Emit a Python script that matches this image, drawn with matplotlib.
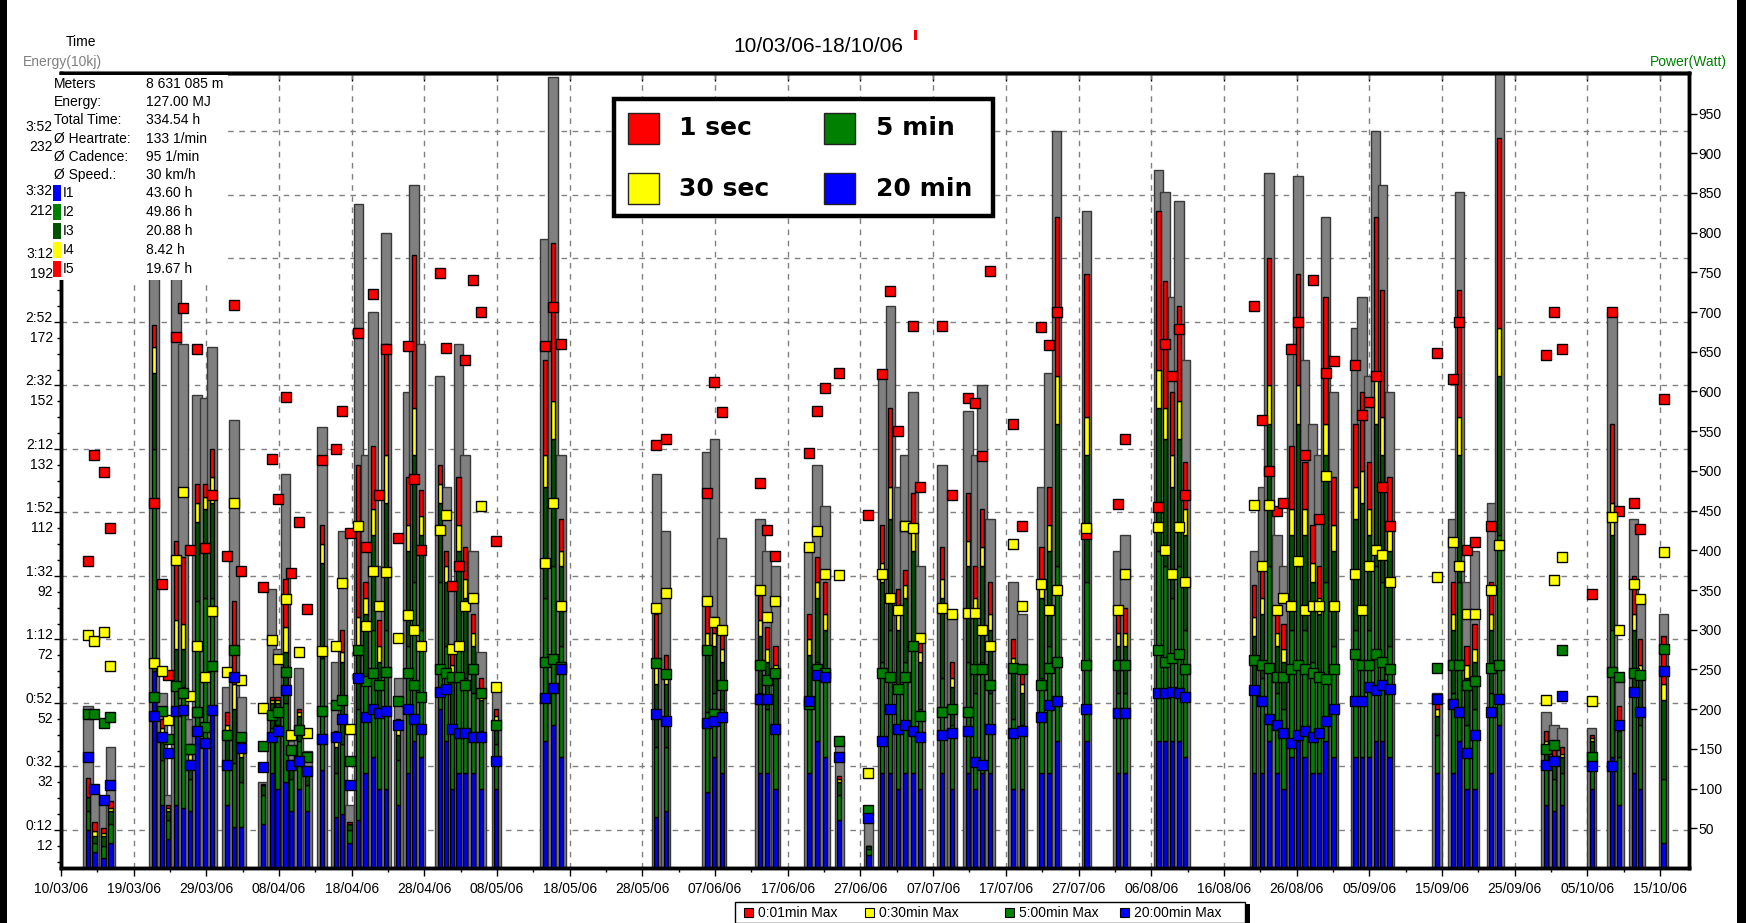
import matplotlib
matplotlib.use("Agg")
import matplotlib.pyplot as plt
from matplotlib.patches import Rectangle
from matplotlib.transforms import blended_transform_factory, offset_copy

plt.rcParams['font.family'] = ['Liberation Sans', 'DejaVu Sans']

# ---------------- data ----------------
date_labels = ["10/03/06", "19/03/06", "29/03/06", "08/04/06", "18/04/06", "28/04/06",
               "08/05/06", "18/05/06", "28/05/06", "07/06/06", "17/06/06", "27/06/06",
               "07/07/06", "17/07/06", "27/07/06", "06/08/06", "16/08/06", "26/08/06",
               "05/09/06", "15/09/06", "25/09/06", "05/10/06", "15/10/06"]

# ride position (days on the axis) and total ride time (min / 10kJ, left axis)
ride_pos = [3.7, 4.6, 5.85, 6.8,
            12.8, 13.9, 14.7, 15.8, 16.8, 17.7, 18.7, 19.8, 20.8, 22.8, 23.8, 24.8,
            27.8, 29.0, 29.8, 30.9, 31.7, 32.7, 33.9, 35.9, 37.8, 38.7, 39.7, 40.9, 41.9,
            42.9, 43.8, 44.7, 46.4, 47.7, 48.6, 49.5, 52.1, 53.0, 53.8, 54.7, 55.6, 56.7, 57.8, 59.9,
            66.6, 67.7, 68.8,
            81.9, 83.2,
            88.9, 89.9, 90.9,
            96.2, 97.1, 98.3,
            102.9, 104.0, 105.1, 107.1, 111.1,
            113.0, 114.1, 115.2, 116.1, 117.2, 118.2,
            121.2, 122.6, 124.8, 125.8, 126.7, 127.8,
            131.0, 132.2, 134.9, 135.9, 137.0, 141.1,
            145.4, 146.4, 151.0, 151.9, 152.9, 153.8, 154.7,
            164.2, 165.3, 166.2, 167.3, 168.2, 169.3, 170.2, 171.1, 172.2, 173.1, 174.0, 175.1,
            178.1, 179.0, 180.0, 180.9, 181.8, 182.8,
            189.3, 191.5, 192.4, 193.4, 194.5, 196.8, 197.9,
            204.3, 205.4, 206.5, 210.6, 213.4, 214.4, 216.4, 217.3, 220.5]

ride_total = [51, 24, 21, 38,
              200, 55, 23, 205, 165, 47, 149, 148, 164, 57, 141, 54,
              27, 88, 69, 124, 40, 63, 37, 139, 65, 106, 20, 209, 130,
              175, 95, 200, 60, 150, 215, 165, 155, 120, 90, 165, 130, 100, 68, 56,
              198, 249, 130,
              124, 106,
              131, 135, 104,
              110, 100, 95,
              102, 127, 114, 40, 15,
              155, 177, 120, 130, 150, 95,
              127, 80, 144, 130, 152, 110,
              90, 80, 120, 156, 232, 207,
              100, 105, 220, 213, 180, 210, 160,
              100, 120, 219, 105, 95, 165, 218, 160, 140, 130, 205, 150,
              170, 180, 155, 232, 215, 150,
              55, 110, 213, 90, 100, 115, 252,
              49, 45, 44, 44, 175, 60, 110, 85, 80]

# time in intensity zones I1..I5 (stacked, left axis units)
zone_i1 = [12, 5, 3, 8,
           62, 20, 9, 20, 19, 18, 44, 40, 50, 20, 13, 13,
           14, 30, 25, 27, 18, 25, 18, 31, 16, 17, 8, 15, 30,
           35, 25, 25, 20, 30, 40, 35, 50, 40, 25, 30, 30, 30, 25, 25,
           40, 45, 35,
           16, 18,
           24, 35, 30,
           30, 30, 25,
           30, 40, 35, 15, 4,
           30, 30, 25, 30, 30, 25,
           30, 25, 30, 25, 30, 30,
           25, 25, 30, 30, 40, 40,
           30, 30, 40, 40, 40, 40, 35,
           30, 30, 40, 30, 25, 35, 40, 35, 30, 30, 40, 35,
           35, 35, 35, 40, 40, 35,
           30, 30, 40, 25, 25, 30, 45,
           20, 18, 20, 25, 35, 20, 30, 25, 8]
zone_i2 = [6, 3, 4, 6,
           70, 14, 6, 38, 38, 10, 40, 45, 35, 14, 20, 14,
           9, 14, 20, 25, 10, 15, 8, 35, 14, 22, 4, 35, 30,
           40, 25, 50, 14, 40, 50, 40, 40, 30, 20, 40, 30, 25, 18, 14,
           45, 50, 35,
           22, 20,
           25, 20, 20,
           25, 20, 20,
           22, 25, 25, 8, 2,
           35, 45, 30, 35, 40, 25,
           30, 20, 35, 30, 35, 25,
           22, 20, 30, 40, 55, 50,
           25, 25, 60, 55, 45, 55, 40,
           25, 30, 55, 25, 25, 40, 55, 40, 35, 30, 50, 35,
           40, 45, 40, 55, 50, 35,
           12, 25, 50, 20, 25, 25, 60,
           12, 10, 10, 10, 40, 15, 25, 20, 20]
zone_i3 = [4.5, 2, 3, 4,
           24, 8, 3, 11, 12, 6, 25, 28, 30, 8, 17, 8,
           3, 8, 7, 16, 5, 8, 4, 30, 8, 26, 2, 19, 20,
           30, 15, 40, 8, 30, 40, 30, 25, 20, 15, 30, 25, 15, 10, 7,
           35, 40, 25,
           20, 20,
           20, 15, 15,
           18, 15, 15,
           15, 20, 15, 4, 1,
           25, 35, 20, 20, 30, 15,
           25, 12, 30, 25, 30, 20,
           15, 10, 25, 30, 45, 40,
           15, 15, 45, 40, 35, 40, 30,
           18, 20, 45, 15, 15, 30, 45, 30, 25, 20, 40, 30,
           35, 35, 30, 45, 40, 30,
           6, 20, 40, 15, 15, 20, 50,
           6, 5, 5, 5, 30, 8, 20, 15, 25]
zone_i4 = [0, 1.5, 1, 1,
           8, 2, 1, 9, 8, 2, 6, 4, 8, 3, 8, 2,
           0, 1, 1, 8, 0.5, 1, 0, 6, 2, 3, 0, 10, 5,
           8, 5, 15, 2, 8, 15, 6, 6, 5, 4, 8, 6, 4, 3, 2,
           10, 12, 5,
           8, 3,
           5, 4, 4,
           5, 4, 4,
           5, 5, 5, 1, 0,
           6, 10, 5, 4, 8, 3,
           6, 3, 8, 5, 6, 5,
           4, 3, 6, 8, 15, 12,
           4, 4, 12, 10, 10, 12, 8,
           6, 5, 12, 4, 4, 8, 12, 8, 6, 5, 10, 8,
           10, 10, 8, 15, 12, 8,
           2, 5, 12, 4, 4, 5, 15,
           2, 2, 1, 1, 10, 3, 5, 4, 5]
zone_i5 = [6, 3, 1.5, 2,
           7, 3, 1, 25, 21, 3, 6, 4, 9, 4, 26, 3,
           0.5, 1, 1, 15, 0.5, 1, 0.5, 6, 3, 7, 0.5, 48, 5,
           20, 8, 35, 3, 15, 48, 8, 6, 5, 6, 15, 10, 6, 4, 2,
           30, 50, 10,
           14, 6,
           10, 5, 6,
           8, 7, 6,
           8, 8, 10, 1, 0,
           12, 25, 8, 5, 10, 5,
           10, 5, 15, 10, 12, 10,
           6, 5, 10, 12, 50, 45,
           6, 8, 50, 40, 20, 30, 15,
           10, 10, 40, 8, 8, 20, 35, 15, 12, 10, 40, 15,
           20, 25, 15, 50, 40, 15,
           3, 10, 40, 6, 8, 10, 60,
           3, 3, 2, 1, 25, 5, 12, 8, 15]

# maximal power (W, right axis)
max_1s = [386, 520, 498, 428,
          460, 358, 243, 669, 705, 400, 654, 403, 470, 393, 709, 374,
          354, 515, 465, 593, 372, 436, 326, 514, 527, 575, 422, 674, 404,
          723, 470, 654, 415, 657, 490, 400, 749, 655, 355, 380, 640, 740, 700, 412,
          657, 706, 660,
          532, 540,
          472, 612, 574,
          485, 426, 393,
          522, 575, 605, 623, 445,
          622, 726, 550, 430, 683, 480,
          683, 470, 592, 585, 519, 752,
          559, 430, 681, 658, 700, 420,
          458, 540, 455, 660, 620, 679, 470,
          707, 564, 500, 450, 460, 654, 688, 520, 740, 440, 623, 638,
          633, 571, 587, 620, 480, 430,
          648, 616, 688, 400, 410, 430, 1010,
          646, 700, 653, 345, 700, 450, 460, 427, 590]
max_30s = [293, 286, 297, 254,
           258, 248, 186, 388, 473, 216, 280, 240, 324, 247, 459, 237,
           201, 287, 263, 339, 167, 272, 170, 273, 280, 359, 175, 430, 305,
           374, 330, 373, 290, 318, 300, 280, 425, 445, 276, 279, 330, 340, 456, 228,
           384, 459, 330,
           328, 346,
           336, 310, 300,
           350, 316, 336,
           404, 424, 370, 369, 120,
           370, 340, 325, 430, 428, 290,
           328, 320, 321, 321, 300, 280,
           408, 330, 358, 325, 350, 428,
           325, 370, 429, 400, 370, 429, 360,
           457, 380, 457, 325, 340, 330, 386, 325, 330, 330, 494, 330,
           370, 325, 380, 400, 394, 360,
           366, 411, 380, 320, 320, 350, 407,
           212, 362, 391, 210, 442, 300, 358, 339, 398]
max_5min = [194, 194, 182, 190,
            215, 198, 163, 229, 220, 150, 196, 178, 254, 168, 275, 165,
            154, 193, 197, 247, 149, 174, 140, 198, 205, 211, 135, 275, 235,
            245, 230, 247, 210, 245, 230, 215, 250, 245, 240, 240, 230, 250, 220, 180,
            259, 263, 253,
            258, 244,
            274, 194, 230,
            255, 237, 245,
            206, 250, 245, 160, 73,
            245, 240, 225, 240, 280, 192,
            196, 200, 196, 250, 250, 230,
            252, 250, 230, 252, 260, 255,
            255, 255, 275, 260, 265, 270, 250,
            262, 255, 252, 240, 240, 250, 255, 250, 245, 240, 238, 250,
            270, 255, 255, 270, 260, 250,
            252, 255, 255, 230, 235, 252, 256,
            150, 155, 275, 140, 247, 240, 246, 243, 276]
max_20min = [140, 100, 86, 104,
             191, 165, 145, 198, 199, 130, 173, 158, 199, 130, 240, 151,
             127, 165, 173, 224, 130, 135, 122, 163, 165, 188, 104, 239, 190,
             200, 195, 198, 180, 200, 188, 175, 222, 225, 175, 170, 170, 165, 165, 135,
             214, 227, 250,
             194, 185,
             182, 185, 190,
             213, 213, 175,
             210, 243, 240, 140, 63,
             160, 200, 175, 180, 172, 165,
             168, 170, 172, 133, 130, 175,
             170, 173, 190, 205, 210, 200,
             195, 195, 220, 220, 222, 220, 215,
             224, 210, 187, 180, 170, 157, 168, 172, 165, 170, 185, 200,
             210, 210, 228, 224, 230, 225,
             213, 206, 196, 145, 168, 196, 213,
             130, 135, 217, 128, 128, 180, 221, 196, 248]

stats_labels = ["Meters", "Energy:", "Total Time:", "\u00d8 Heartrate:", "\u00d8 Cadence:",
                "\u00d8 Speed.:", "I1", "I2", "I3", "I4", "I5"]
stats_values = ["8 631 085 m", "127.00 MJ", "334.54 h", "133 1/min", "95 1/min",
                "30 km/h", "43.60 h", "49.86 h", "20.88 h", "8.42 h", "19.67 h"]

zone_colors = ["#0000ff", "#008000", "#005400", "#ffff00", "#ff0000"]
power_labels_top = ["1 sec", "30 sec", "5 min", "20 min"]
power_labels_bottom = ["0:01min Max", "0:30min Max", "5:00min Max", "20:00min Max"]
power_colors = ["#ff0000", "#ffff00", "#008000", "#0000ff"]

# ---------------- figure ----------------
W, H = 1746, 923
fig = plt.figure(figsize=(W / 100, H / 100), dpi=100)
fig.patch.set_facecolor("white")


def fx(x):
    return x / W


def fy(y):
    return 1 - y / H


AX_L, AX_R, AX_T, AX_B = 61, 1689, 73, 868
ax = fig.add_axes([fx(AX_L), fy(AX_B), (AX_R - AX_L) / W, (AX_B - AX_T) / H])
ax.set_xlim(0, 224)
ax.set_ylim(0, 250.4)
ax.set_axisbelow(True)

# grid
grid_y = list(range(12, 233, 20))
grid_x = list(range(10, 221, 10))
for gx in grid_x:
    ax.axvline(gx, color="#808080", lw=1, ls=(0, (4, 4)), zorder=0.5)
for gy in grid_y:
    ax.axhline(gy, color="#808080", lw=1, ls=(0, (4, 4)), zorder=0.5)

# gray total bars
ax.bar(ride_pos, ride_total, width=1.3, color="#808080", edgecolor="#383838",
       linewidth=1, zorder=2)

# stacked zone bars
zones = [zone_i1, zone_i2, zone_i3, zone_i4, zone_i5]
bottom = [0.0] * len(ride_pos)
for z, c in zip(zones, zone_colors):
    ax.bar(ride_pos, z, bottom=bottom, width=0.58, color=c, edgecolor="black",
           linewidth=1, zorder=3)
    bottom = [b + v for b, v in zip(bottom, z)]

# axis ticks (left)
ax.set_yticks(grid_y)
ax.set_yticklabels([])
ax.set_yticks([v for v in range(2, 250, 5) if v not in grid_y], minor=True)
ax.tick_params(axis="y", which="major", direction="out", length=5, width=1)
ax.tick_params(axis="y", which="minor", direction="out", length=3, width=1)

base = blended_transform_factory(ax.transAxes, ax.transData)
for v in grid_y:
    tlabel = f"{v // 60}:{v % 60:02d}"
    ax.text(-8 / (AX_R - AX_L), v, tlabel, ha="right", va="baseline", fontsize=10,
            transform=offset_copy(base, fig=fig, x=0, y=0, units="dots"), zorder=10)
    ax.text(-8 / (AX_R - AX_L), v, str(v), ha="right", va="baseline", fontsize=10,
            transform=offset_copy(base, fig=fig, x=0, y=-20, units="dots"), zorder=10)

# bottom ticks
ax.set_xticks(list(range(0, 221, 10)))
ax.set_xticklabels(date_labels, fontsize=10)
ax.set_xticks(list(range(5, 224, 10)), minor=True)
ax.tick_params(axis="x", which="major", direction="out", length=6, width=1, pad=4)
ax.tick_params(axis="x", which="minor", direction="out", length=3, width=1)

sec = ax.secondary_xaxis("top")
sec.set_xticks(list(range(0, 221, 10)))
sec.tick_params(direction="in", length=6, width=1, labeltop=False)
sec.spines["top"].set_linewidth(2.5)

for s in ax.spines.values():
    s.set_linewidth(2.5)

# right axis power markers
ax2 = ax.twinx()
ax2.set_ylim(0, 1001)
ax2.set_yticks(list(range(50, 951, 50)))
ax2.tick_params(axis="y", direction="out", length=6, width=1, labelsize=10, pad=1)
for s in ax2.spines.values():
    s.set_linewidth(2.5)
for series, c in zip([max_1s, max_30s, max_5min, max_20min], power_colors):
    ax2.plot(ride_pos, series, ls="none", marker="s", ms=7.6, mfc=c, mec="black",
             mew=1, zorder=5)

# stats box covering the top-left of the plot
fig.add_artist(Rectangle((fx(53), fy(280)), (228 - 53) / W, (280 - 75) / H,
                         transform=fig.transFigure, facecolor="white",
                         edgecolor="none", zorder=5))
row_y = [84, 102, 120, 139, 157, 175, 193, 212, 231, 250, 269]
for i, (lab, val) in enumerate(zip(stats_labels, stats_values)):
    y = row_y[i]
    if i >= 6:
        fig.add_artist(Rectangle((fx(53), fy(y + 8)), 8 / W, 16 / H,
                                 transform=fig.transFigure,
                                 facecolor=zone_colors[i - 6], edgecolor="none",
                                 zorder=6))
        fig.text(fx(63), fy(y), lab, ha="left", va="center", fontsize=10, zorder=7)
    else:
        fig.text(fx(54), fy(y), lab, ha="left", va="center", fontsize=10, zorder=7)
    fig.text(fx(146), fy(y), val, ha="left", va="center", fontsize=10, zorder=7)

# header texts
fig.text(fx(81), fy(42), "Time", ha="center", va="center", fontsize=10)
fig.text(fx(62), fy(62), "Energy(10kj)", ha="center", va="center", fontsize=10,
         color="#808080")
fig.text(fx(1688), fy(62), "Power(Watt)", ha="center", va="center", fontsize=10,
         color="#008000")
fig.text(fx(818), fy(46), "10/03/06-18/10/06", ha="center", va="center", fontsize=15)
fig.add_artist(Rectangle((fx(914), fy(40)), 3 / W, 10 / H, transform=fig.transFigure,
                         facecolor="#ff0000", edgecolor="none"))

# top legend box
fig.add_artist(Rectangle((fx(614), fy(216)), (993 - 614) / W, (216 - 99) / H,
                         transform=fig.transFigure, facecolor="white",
                         edgecolor="black", linewidth=3.2, zorder=8))
sq_pos = [(628, 113), (628, 173), (824, 113), (824, 173)]
txt_pos = [(679, 128), (679, 189), (876, 128), (876, 189)]
for (sx, sy), (tx, ty), c, lab in zip(sq_pos, txt_pos, power_colors, power_labels_top):
    fig.add_artist(Rectangle((fx(sx), fy(sy + 31)), 31 / W, 31 / H,
                             transform=fig.transFigure, facecolor=c,
                             edgecolor="#222222", linewidth=1, zorder=9))
    fig.text(fx(tx), fy(ty), lab, ha="left", va="center", fontsize=18,
             fontweight="bold", family="DejaVu Sans", zorder=10)

# bottom legend
fig.add_artist(Rectangle((fx(735), fy(923)), (1245 - 735) / W, (923 - 902) / H,
                         transform=fig.transFigure, facecolor="white",
                         edgecolor="black", linewidth=1, zorder=8))
fig.add_artist(Rectangle((fx(1245), fy(923)), 5 / W, (923 - 904) / H,
                         transform=fig.transFigure, facecolor="black",
                         edgecolor="none", zorder=8))
leg_sq_x = [744, 865, 1005, 1120]
for sx, c, lab in zip(leg_sq_x, power_colors, power_labels_bottom):
    fig.add_artist(Rectangle((fx(sx), fy(917)), 9 / W, 9 / H, transform=fig.transFigure,
                             facecolor=c, edgecolor="black", linewidth=0.8, zorder=9))
    fig.text(fx(sx + 14), fy(913), lab, ha="left", va="center", fontsize=10, zorder=10)

# black frame edges
fig.add_artist(Rectangle((0, 0), 7 / W, 1, transform=fig.transFigure,
                         facecolor="black", edgecolor="none", zorder=20))
fig.add_artist(Rectangle((fx(1737), 0), 9 / W, 1, transform=fig.transFigure,
                         facecolor="black", edgecolor="none", zorder=20))

fig.savefig("out.png", dpi=100)
